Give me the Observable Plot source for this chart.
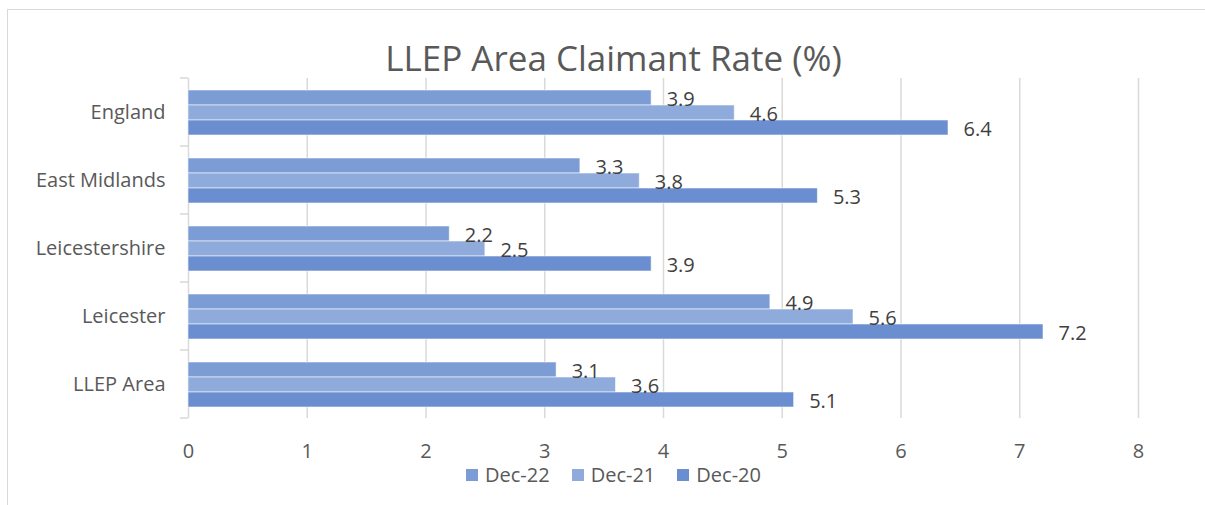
<!DOCTYPE html>
<html>
<head>
<meta charset="utf-8">
<script src="https://cdn.jsdelivr.net/npm/d3@7"></script>
<script src="https://cdn.jsdelivr.net/npm/@observablehq/plot@0.6"></script>
<style>
  html, body { margin: 0; padding: 0; overflow: hidden; background: #fff; width: 1205px; height: 505px; }
  body { position: relative; font-family: "Open Sans", "Noto Sans", sans-serif; }
  #frame { position: absolute; left: 7px; top: 9px; width: 1220px; height: 520px; border: 1.5px solid #d9d9d9; box-sizing: border-box; }
  #title { position: absolute; left: 0; top: 30px; width: 1227px; text-align: center; font-size: 35px; line-height: 56px; color: #595959; }
  #chart { position: absolute; left: 0; top: 70px; }
  #legend { position: absolute; left: 0; top: 466px; width: 1227px; height: 17px; line-height: 17px; display: flex; justify-content: center; align-items: center; font-size: 20px; color: #595959; }
  #legend .item { display: flex; align-items: center; margin: 0 11px; height: 17px; }
  #legend .item span { line-height: 17px; display: inline-block; height: 17px; }
  #legend .sw { width: 12px; height: 12px; margin-right: 7px; }
</style>
</head>
<body>
<div id="frame"></div>
<div id="title">LLEP Area Claimant Rate (%)</div>
<div id="chart"></div>
<div id="legend"></div>
<script>
const categories = ["England", "East Midlands", "Leicestershire", "Leicester", "LLEP Area"];
const series = ["Dec-22", "Dec-21", "Dec-20"];
const dec22 = [3.9, 3.3, 2.2, 4.9, 3.1];
const dec21 = [4.6, 3.8, 2.5, 5.6, 3.6];
const dec20 = [6.4, 5.3, 3.9, 7.2, 5.1];
const xTicks = [0, 1, 2, 3, 4, 5, 6, 7, 8];
const colors = ["#7b9cd5", "#8eabdc", "#6a8ecf"];

const seriesValues = [dec22, dec21, dec20];
const data = [];
categories.forEach((c, i) => {
  series.forEach((s, j) => data.push({cat: c, series: s, value: seriesValues[j][i]}));
});

const gridColor = "#d9d9d9";
const plot = Plot.plot({
  width: 1205,
  height: 389,
  marginLeft: 188,
  marginRight: 67,
  marginTop: 7,
  marginBottom: 40,
  style: {fontFamily: "'Open Sans', 'Noto Sans', sans-serif", fontSize: "20px", color: "#595959", background: "transparent", overflow: "visible"},
  x: {domain: [0, 8], ticks: xTicks, label: null},
  y: {domain: series, paddingInner: 0, paddingOuter: 0.75, axis: null},
  fy: {domain: categories, padding: 0, label: null},
  color: {domain: series, range: colors},
  marks: [
    Plot.gridX(xTicks, {stroke: gridColor, strokeOpacity: 1, strokeWidth: 1.5}),
    Plot.barX(data, {x: "value", y: "series", fy: "cat", fill: "series", stroke: "#ffffff", strokeOpacity: 0.55, strokeWidth: 1}),
    Plot.text(data, {x: "value", y: "series", fy: "cat", text: d => d.value.toFixed(1), textAnchor: "start", dx: 15, dy: 2, fontSize: 20, fill: "#404040"}),
    Plot.axisX(xTicks, {anchor: "bottom", tickSize: 0, tickPadding: 25, tickFormat: d => String(d), fontSize: 20, fill: "#595959", label: null}),
    Plot.axisFy({anchor: "left", tickSize: 0, tickPadding: 23, fontSize: 20, fill: "#595959", label: null})
  ]
});
document.getElementById("chart").appendChild(plot);

// category boundary ticks on the left axis, from the library's scales
const fy = plot.scale("fy");
const xs = plot.scale("x");
const x0 = xs.apply(0);
const svg = d3.select(plot);
const bounds = categories.map(c => fy.apply(c)).concat([fy.apply(categories[categories.length - 1]) + fy.bandwidth]);
svg.append("g")
  .selectAll("line")
  .data(bounds)
  .join("line")
  .attr("x1", x0 - 8).attr("x2", x0)
  .attr("y1", d => d).attr("y2", d => d)
  .attr("stroke", gridColor).attr("stroke-width", 1.5);

// legend
const legend = d3.select("#legend");
series.forEach((s, i) => {
  const it = legend.append("div").attr("class", "item");
  it.append("div").attr("class", "sw").style("background", colors[i]);
  it.append("span").text(s);
});
</script>
</body>
</html>
